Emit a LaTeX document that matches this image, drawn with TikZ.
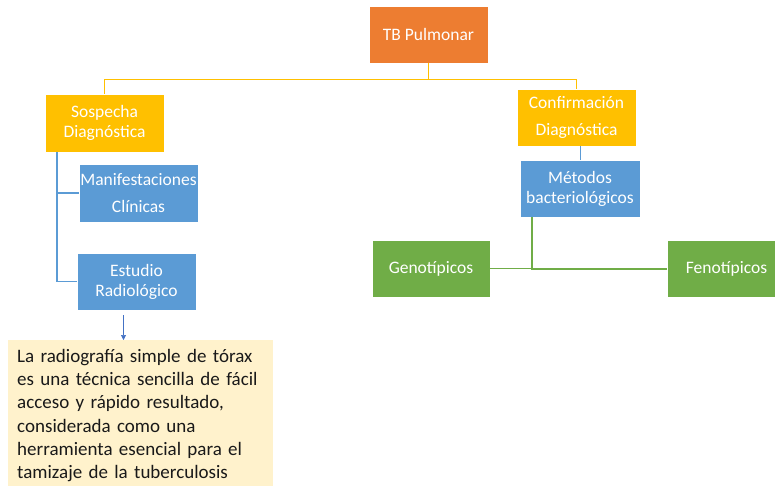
\documentclass[tikz,border=0pt]{standalone}
\usepackage{fontspec}
\setmainfont{Carlito}
\usetikzlibrary{arrows.meta}
\definecolor{corange}{HTML}{ED7D31}
\definecolor{cyellow}{HTML}{FFC000}
\definecolor{cblue}{HTML}{5B9BD5}
\definecolor{cgreen}{HTML}{70AD47}
\definecolor{cnote}{HTML}{FFF2CC}
\definecolor{carrow}{HTML}{4472C4}
\tikzset{
  box/.style={draw=white, line width=0.6pt, text=white, align=center, inner sep=1pt,
    font=\fontsize{17.5}{20}\selectfont},
  wide/.style={font=\fontsize{17.5}{27}\selectfont},
  ylink/.style={draw=cyellow, line width=1.1pt},
  blink/.style={draw=cblue, line width=1.1pt},
  glink/.style={draw=cgreen, line width=1.1pt},
}
\begin{document}
\begin{tikzpicture}[x=1pt,y=-1pt]
\useasboundingbox (0,0) rectangle (775,485);
\clip (0,0) rectangle (775,485);
\fill[white] (0,0) rectangle (775,485);
% boxes
\node[box, fill=corange, minimum width=119, minimum height=57] (tb) at (428.5,34.5) {TB Pulmonar};
\node[box, fill=cyellow, minimum width=119, minimum height=58] (sosp) at (104.5,123) {Sospecha\\Diagnóstica};
\node[box, wide, fill=cblue, minimum width=119, minimum height=58] (manif) at (138.5,193) {Manifestaciones\\Clínicas};
\node[box, fill=cblue, minimum width=119, minimum height=57] (estud) at (136.5,281.5) {Estudio\\Radiológico};
\node[box, wide, fill=cyellow, minimum width=119, minimum height=57] (conf) at (576.5,117.5) {Confirmación\\Diagnóstica};
\node[box, fill=cblue, minimum width=120, minimum height=57] (met) at (580,188.5) {Métodos\\bacteriológicos};
\node[box, fill=cgreen, minimum width=118, minimum height=57] (geno) at (431,268.5) {Genotípicos};
\node[box, fill=cgreen, minimum width=119, minimum height=57] (feno) at (726.5,269) {Fenotípicos};
\node[fill=cnote, anchor=north west, text width=247, inner xsep=9, inner ysep=9,
  align=left, font=\fontsize{19}{23.2}\selectfont, text=black!90] (note) at (8,340)
  {La radiografía simple de tórax\\es una técnica sencilla de fácil\\acceso y rápido resultado,\\considerada como una\\herramienta esencial para el\\tamizaje de la tuberculosis};
% connectors
\coordinate (tj) at ([yshift=-16]tb.south);
\draw[ylink] (tb.south) -- (tj) -| (sosp.north);
\draw[ylink] (tj) -| (conf.north);
\coordinate (lb) at (57,152);
\draw[blink] (lb) |- (manif.west);
\draw[blink] (lb) |- (estud.west);
\draw[blink, line width=0.8pt] (met.north) -- (met.north |- conf.south);
\coordinate (gj) at ([xshift=-48]met.south);
\draw[glink] (gj) |- (geno.east);
\draw[glink] (gj) |- (feno.west);
\coordinate (ar) at ([xshift=-13,yshift=-5]estud.south);
\draw[draw=carrow, line width=0.6pt, -{Triangle[width=5pt,length=5pt]}] (ar) -- (ar |- note.north);
\end{tikzpicture}
\end{document}
